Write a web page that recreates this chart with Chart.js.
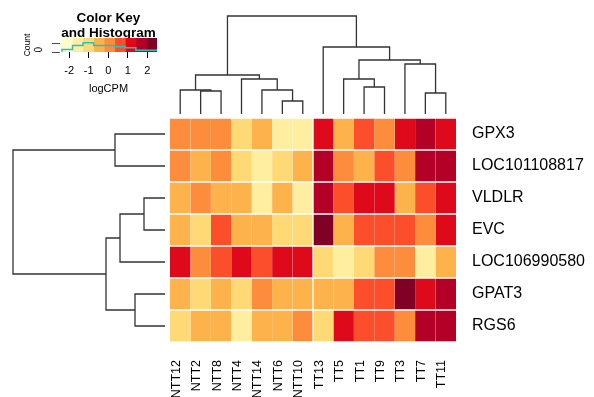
<!DOCTYPE html>
<html>
<head>
<meta charset="utf-8">
<script src="https://cdn.jsdelivr.net/npm/chart.js@4.4.1/dist/chart.umd.min.js"></script>
<style>
  html, body { margin: 0; padding: 0; background: #ffffff; }
  #wrap { position: relative; width: 594px; height: 397px; overflow: hidden; background: #ffffff; }
  #wrap canvas { position: absolute; left: 0; top: 0; }
</style>
</head>
<body>
<div id="wrap">
  <canvas id="heat" width="594" height="397"></canvas>
  <canvas id="dtop" width="594" height="397"></canvas>
  <canvas id="dleft" width="594" height="397"></canvas>
  <canvas id="key" width="594" height="397"></canvas>
  <canvas id="hist" width="594" height="397"></canvas>
</div>
<script>
// ---------------- data ----------------
const colNames = ['NTT12','NTT2','NTT8','NTT4','NTT14','NTT6','NTT10','TT13','TT5','TT1','TT9','TT3','TT7','TT11'];
const rowNames = ['GPX3','LOC101108817','VLDLR','EVC','LOC106990580','GPAT3','RGS6'];

// logCPM (row-scaled) per gene, in column order above
const GPX3         = [0.08, 0.05, 0.10, -1.02, -0.46, -1.58, -1.52, 1.18, -0.55, 0.62, 0.02, 1.12, 1.72, 1.20];
const LOC101108817 = [0.04, -0.48, 0.09, -0.97, -1.61, -1.05, -0.52, 1.66, 0.12, -0.44, 0.57, 0.06, 1.75, 1.78];
const VLDLR        = [-0.50, 0.11, -0.42, -0.57, -1.55, -0.47, -1.63, 1.70, 0.55, 1.15, 1.22, -0.41, 0.64, 1.10];
const EVC          = [-0.45, -0.98, 0.66, -0.52, -0.58, -1.06, -0.93, 2.26, -0.49, 0.58, 0.61, 0.52, 0.14, 1.24];
const LOC106990580 = [1.16, 0.07, 0.63, 1.21, 0.55, 1.14, 1.19, -1.04, -1.57, -0.95, 0.10, 0.03, -1.62, -0.47];
const GPAT3        = [-0.53, -1.01, -0.44, -0.96, 0.06, -0.50, -0.56, -0.48, -0.43, 0.59, 0.66, 2.21, 1.13, 1.69];
const RGS6         = [-0.99, -0.54, -0.47, -1.58, -0.51, -0.45, 0.11, -1.07, 1.17, 0.56, 0.63, 0.04, 1.73, 1.67];
const rowValues = [GPX3, LOC101108817, VLDLR, EVC, LOC106990580, GPAT3, RGS6];

// color key
const keyBreaks = [-2.37, -1.83, -1.29, -0.75, -0.21, 0.33, 0.87, 1.41, 1.95, 2.49];
const keyColors = ['#FFFBCB', '#FFEDA0', '#FED976', '#FEB24C', '#FD8D3C', '#FC4E2A', '#DE0A1C', '#B40026', '#800026'];
const keyTicks = [-2, -1, 0, 1, 2];
const histCounts = [0, 6, 15, 21, 15, 15, 12, 10, 4];

// column dendrogram (R hclust style merges; negative = leaf index, positive = earlier merge)
const colMergeA = [-6, -13, -2, -1, -5, -10, -4, -9, 4, -12, 8, -8, 9];
const colMergeB = [-7, -14, -3, 3, 1, -11, 5, 6, 7, 2, 10, 11, 12];
const colMergeH = [13, 21, 23, 24, 24, 27, 35, 35, 39, 50, 54, 67, 98];

// row dendrogram
const rowMergeA = [-3, -6, 1, -1, 3, 4];
const rowMergeB = [-4, -7, -5, -2, 2, 5];
const rowMergeH = [21, 30, 45, 50, 59, 152];

// ---------------- helpers ----------------
const FONT = "'Liberation Sans', Arial, Helvetica, sans-serif";
Chart.defaults.font.family = FONT;
Chart.defaults.color = '#000';

function colorFor(v) {
  for (let i = 0; i < keyColors.length; i++) {
    if (v < keyBreaks[i + 1]) return keyColors[i];
  }
  return keyColors[keyColors.length - 1];
}

function dendroLines(A, B, H) {
  const pos = [], ht = [];
  const get = (k) => k < 0 ? { p: -k - 0.5, h: 0 } : { p: pos[k - 1], h: ht[k - 1] };
  const lines = [];
  for (let m = 0; m < A.length; m++) {
    const a = get(A[m]), b = get(B[m]);
    lines.push([{ p: a.p, h: a.h }, { p: a.p, h: H[m] }, { p: b.p, h: H[m] }, { p: b.p, h: b.h }]);
    pos.push((a.p + b.p) / 2);
    ht.push(H[m]);
  }
  return lines;
}

const lineStyle = { showLine: true, pointRadius: 0, borderColor: '#333333', borderWidth: 1.3, tension: 0, clip: false, fill: false };
const common = { responsive: false, animation: false, events: [], plugins: { legend: { display: false }, tooltip: { enabled: false } } };

// ---------------- heatmap ----------------
new Chart(document.getElementById('heat'), {
  type: 'bar',
  data: {
    labels: rowNames,
    datasets: colNames.map((c, j) => ({
      label: c,
      data: rowValues.map(() => 1),
      backgroundColor: rowValues.map(r => colorFor(r[j])),
      borderColor: '#ffffff',
      borderWidth: { top: 1, bottom: 1, left: j === 7 ? 1 : 0, right: j === 6 ? 1 : 0 },
      borderSkipped: false,
      barPercentage: 1,
      categoryPercentage: 1
    }))
  },
  options: Object.assign({}, common, {
    indexAxis: 'y',
    layout: { padding: { left: 170, top: 118, right: 0, bottom: 0 } },
    scales: {
      x: { type: 'linear', stacked: true, min: 0, max: colNames.length, display: false },
      y: {
        stacked: true, position: 'right',
        grid: { display: false, drawTicks: false }, border: { display: false },
        ticks: { padding: 16, color: '#000', font: { family: FONT, size: 16 } },
        afterFit: (s) => { s.width = 138; }
      },
      xl: {
        type: 'category', labels: colNames, position: 'bottom', offset: true,
        grid: { display: false, drawTicks: false }, border: { display: false },
        ticks: { minRotation: 90, maxRotation: 90, autoSkip: false, padding: 18, labelOffset: -4, color: '#000', font: { family: FONT, size: 12.5 } },
        afterFit: (s) => { s.height = 55; }
      }
    }
  })
});

// ---------------- column dendrogram ----------------
new Chart(document.getElementById('dtop'), {
  type: 'scatter',
  data: { datasets: dendroLines(colMergeA, colMergeB, colMergeH).map(l => Object.assign({ data: l.map(q => ({ x: q.p, y: q.h })) }, lineStyle)) },
  options: Object.assign({}, common, {
    layout: { padding: { left: 170, right: 138, top: 14, bottom: 283 } },
    scales: {
      x: { type: 'linear', min: 0, max: colNames.length, display: false },
      y: { type: 'linear', min: 0, max: 100, display: false }
    }
  })
});

// ---------------- row dendrogram ----------------
new Chart(document.getElementById('dleft'), {
  type: 'scatter',
  data: { datasets: dendroLines(rowMergeA, rowMergeB, rowMergeH).map(l => Object.assign({ data: l.map(q => ({ x: q.h, y: q.p })) }, lineStyle)) },
  options: Object.assign({}, common, {
    layout: { padding: { left: 13, right: 429, top: 118, bottom: 55 } },
    scales: {
      x: { type: 'linear', min: 0, max: 152, reverse: true, display: false },
      y: { type: 'linear', min: 0, max: rowNames.length, reverse: true, display: false }
    }
  })
});

// ---------------- color key ----------------
new Chart(document.getElementById('key'), {
  type: 'bar',
  data: {
    labels: ['logCPM'],
    datasets: keyColors.map((c, i) => ({
      data: [[keyBreaks[i], keyBreaks[i + 1]]],
      backgroundColor: c, borderWidth: 0, grouped: false,
      barPercentage: 1, categoryPercentage: 1
    }))
  },
  options: Object.assign({}, common, {
    indexAxis: 'y',
    layout: { padding: { left: 60, right: 437, top: 10.6, bottom: 397 - 52 - 44 } },
    plugins: {
      legend: { display: false }, tooltip: { enabled: false },
      title: {
        display: true, text: ['Color Key', 'and Histogram'], color: '#000',
        font: { family: FONT, size: 13.5, weight: 'bold', lineHeight: 1.1 },
        padding: { top: 0, bottom: -2.3 }
      }
    },
    scales: {
      y: { display: false },
      x: {
        type: 'linear', min: keyBreaks[0] - 0.1, max: keyBreaks[keyBreaks.length - 1],
        afterBuildTicks: (s) => { s.ticks = keyTicks.map(v => ({ value: v })); },
        grid: { drawOnChartArea: false, drawTicks: true, tickLength: 6, color: '#000', lineWidth: 1 },
        border: { display: false },
        ticks: { padding: 6, color: '#000', font: { family: FONT, size: 11 } },
        title: { display: true, text: 'logCPM', color: '#000', font: { family: FONT, size: 11 }, padding: 0 },
        afterFit: (s) => { s.height = 44; }
      }
    }
  })
});

// ---------------- histogram ----------------
const histPts = histCounts.map((c, i) => ({ x: keyBreaks[i], y: c }));
histPts.push({ x: keyBreaks[keyBreaks.length - 1], y: histCounts[histCounts.length - 1] });
new Chart(document.getElementById('hist'), {
  type: 'scatter',
  data: { datasets: [{ data: histPts, showLine: true, stepped: 'after', pointRadius: 0, borderColor: '#22c4c0', borderWidth: 1.5, clip: false }] },
  options: Object.assign({}, common, {
    layout: { padding: { left: 23, right: 437, top: 38, bottom: 345 } },
    scales: {
      x: { type: 'linear', min: keyBreaks[0] - 0.1, max: keyBreaks[keyBreaks.length - 1], display: false },
      y: {
        type: 'linear', min: 0, max: 32, position: 'left',
        grid: { drawOnChartArea: false, drawTicks: true, tickLength: 8, color: '#000', lineWidth: 0.7 },
        border: { display: false },
        ticks: { stepSize: 4, minRotation: 90, maxRotation: 90, padding: 13, labelOffset: -5, color: '#000', font: { family: FONT, size: 10 },
                 callback: (v) => v === 0 ? '0' : '' },
        title: { display: true, text: 'Count', color: '#000', font: { family: FONT, size: 8.5 }, padding: 0 },
        afterFit: (s) => { s.width = 37; }
      }
    }
  })
});
</script>
</body>
</html>
